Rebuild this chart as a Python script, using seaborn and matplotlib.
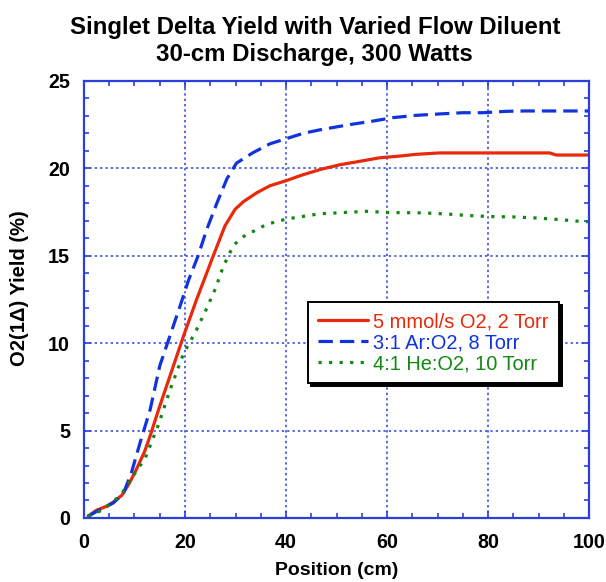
import matplotlib
matplotlib.use("Agg")
import matplotlib.pyplot as plt
import seaborn as sns
from matplotlib.ticker import MultipleLocator

# values
red_x = [0.8, 2.5, 4.5, 6, 7.5, 9, 10.4, 12, 13.1, 15, 17, 19.7, 22.3, 25.6, 27.9, 29.9,
         31.6, 34.2, 36.8, 40.1, 43, 47, 50.6, 54.6, 58.5, 62.5, 65.8, 70.4, 80, 92.2, 93.5, 100]
red_y = [0.1, 0.45, 0.67, 0.95, 1.3, 2.0, 2.8, 3.8, 4.7, 6.4, 8.1, 10.4, 12.5, 15.0, 16.7, 17.65,
         18.1, 18.6, 19.0, 19.3, 19.6, 19.95, 20.2, 20.4, 20.6, 20.7, 20.8, 20.88, 20.88, 20.88, 20.76, 20.76]

blue_x = [0.8, 3, 5.8, 7.8, 9.4, 11.1, 13.1, 15, 17, 19, 20.7, 22.6, 24.3, 26.3, 28.3, 30.2,
          33.5, 36.8, 40.1, 43.4, 46.7, 52.6, 57.2, 61.2, 65.8, 69.8, 75, 79, 83.6, 87.5, 100]
blue_y = [0.1, 0.45, 0.86, 1.4, 2.6, 4.3, 6.2, 8.7, 10.4, 12.1, 13.6, 15, 16.5, 18, 19.4, 20.3,
          20.9, 21.4, 21.7, 22.0, 22.2, 22.5, 22.7, 22.9, 23.03, 23.1, 23.18, 23.18, 23.26, 23.28, 23.28]

green_x = [0.8, 3.2, 5.5, 7.5, 10.4, 12.1, 14.7, 17, 19.7, 22, 24, 26, 27.6, 29.6, 31.6, 36.2,
           40.1, 46.7, 51.3, 55.9, 60.5, 67.1, 71.7, 76, 80.3, 84.9, 89.5, 94.1, 98.1, 100]
green_y = [0.1, 0.4, 0.85, 1.4, 2.7, 3.4, 5.3, 7.3, 9.4, 10.6, 11.8, 13.1, 14.4, 15.6, 16.1, 16.8,
           17.1, 17.4, 17.47, 17.54, 17.47, 17.45, 17.39, 17.3, 17.24, 17.22, 17.16, 17.07, 16.97, 16.95]

labels = ["5 mmol/s O2, 2 Torr", "3:1 Ar:O2, 8 Torr", "4:1 He:O2, 10 Torr"]
colors = ["#e8290b", "#1133dd", "#118811"]

sns.set_style("ticks")
plt.rcParams['font.family'] = ['Liberation Sans', 'DejaVu Sans']
plt.rcParams['text.color'] = 'black'
plt.rcParams['axes.labelcolor'] = 'black'

fig = plt.figure(figsize=(6.06, 5.82), dpi=100)
ax = fig.add_axes([0.1386, 0.11, 0.8334, 0.751])

frame = "#2a3fe0"
ax.grid(True, color=frame, linestyle=(0, (1.5, 2)), linewidth=1.1)
ax.set_axisbelow(True)

sns.lineplot(x=red_x, y=red_y, ax=ax, color=colors[0], linewidth=2.3,
             linestyle="-", label=labels[0], sort=False)
sns.lineplot(x=blue_x, y=blue_y, ax=ax, color=colors[1], linewidth=2.3,
             linestyle=(0, (4.5, 2.2)), label=labels[1], sort=False)
sns.lineplot(x=green_x, y=green_y, ax=ax, color=colors[2], linewidth=2.3,
             linestyle=(0, (1, 2.3)), label=labels[2], sort=False)

ax.set_xlim(0, 100)
ax.set_ylim(0, 25)
ax.xaxis.set_major_locator(MultipleLocator(20))
ax.xaxis.set_minor_locator(MultipleLocator(5))
ax.yaxis.set_major_locator(MultipleLocator(5))
ax.yaxis.set_minor_locator(MultipleLocator(1))
ax.tick_params(which="both", direction="in", top=True, right=True, color=frame,
               labelcolor="black", width=1.2)
ax.tick_params(which="major", length=5, labelsize=14.2)
ax.tick_params(axis="x", which="major", pad=11)
ax.tick_params(axis="y", which="major", pad=10)
ax.tick_params(which="minor", length=3.5)
for lab in ax.get_xticklabels() + ax.get_yticklabels():
    lab.set_fontweight("bold")
for sp in ax.spines.values():
    sp.set_color(frame)
    sp.set_linewidth(1.6)

ax.set_xlabel("Position (cm)", fontsize=14, fontweight="bold", labelpad=7)
ax.set_ylabel("O2(1Δ) Yield (%)", fontsize=14.5, fontweight="bold")
ax.yaxis.set_label_coords(-0.108, 0.527)
ax.set_title("Singlet Delta Yield with Varied Flow Diluent\n30-cm Discharge, 300 Watts",
             fontsize=17.3, fontweight="bold", pad=14, linespacing=1.25, x=0.457,
             color="black")

leg = ax.legend(loc="upper left", bbox_to_anchor=(0.444, 0.494), borderaxespad=0,
                fontsize=14.4, frameon=True, fancybox=False, edgecolor="black",
                shadow={"color": "black", "alpha": 1}, handlelength=2.5,
                handletextpad=0.25, labelspacing=0.1, borderpad=0.5)
leg.get_frame().set_linewidth(1.4)
for txt, c in zip(leg.get_texts(), colors):
    txt.set_color(c)

fig.savefig("out.png", dpi=100)
